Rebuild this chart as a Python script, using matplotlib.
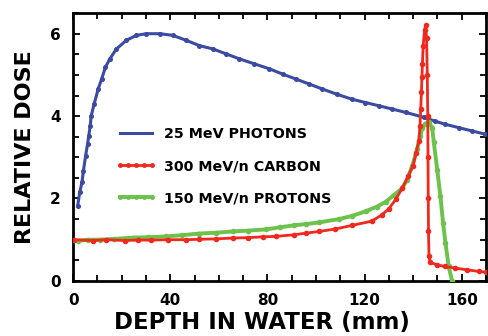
import matplotlib
matplotlib.use('Agg')
import matplotlib.pyplot as plt
from matplotlib.lines import Line2D

# Depth-dose curves
photon_depth = [1.8, 2.7, 3.6, 4.2, 5.1, 5.9, 6.4, 7.0, 7.4, 8.6, 10.3, 11.7, 13.3, 15.1, 17.8,
                21.9, 26.0, 30.1, 35.6, 41.0, 46.5, 52.0, 57.5, 63.0, 68.4, 74.5, 80.7, 86.2,
                91.7, 97.1, 102.5, 108.6, 114.8, 120.3, 125.9, 131.4, 136.9, 144.4, 148.8,
                153.3, 158.7, 164.2, 169.7]
photon_dose = [1.81, 2.15, 2.39, 2.67, 3.03, 3.32, 3.52, 3.76, 4.00, 4.29, 4.66, 4.90, 5.19, 5.39,
               5.63, 5.84, 5.96, 6.00, 6.00, 5.96, 5.84, 5.71, 5.63, 5.51, 5.39, 5.27, 5.15, 5.02,
               4.90, 4.78, 4.66, 4.53, 4.41, 4.33, 4.25, 4.17, 4.09, 3.97, 3.88, 3.80, 3.72,
               3.64, 3.56]

carbon_depth = [0.5, 8.2, 13.7, 21.2, 26.5, 32.0, 39.0, 46.5, 52.0, 58.9, 65.7, 72.0, 78.0, 83.5,
                91.0, 96.0, 101.3, 108.0, 115.0, 123.0, 127.0, 130.0, 132.8, 135.5, 137.9, 140.0,
                141.2, 142.3, 142.8, 143.1, 143.4, 143.6, 143.8, 144.1, 144.7, 145.1, 145.5,
                145.8, 146.0, 146.1, 146.2, 146.3, 146.5, 147.0, 149.8, 153.0, 157.4, 162.0,
                167.0, 170.0]
carbon_dose = [1.00, 0.98, 1.00, 0.98, 0.99, 0.99, 1.00, 1.00, 1.01, 1.02, 1.04, 1.05, 1.07, 1.08,
               1.12, 1.16, 1.20, 1.26, 1.35, 1.45, 1.60, 1.75, 1.98, 2.25, 2.54, 2.80, 3.10, 3.40,
               3.76, 4.17, 4.58, 4.94, 5.27, 5.71, 6.10, 6.20, 5.90, 5.00, 4.00, 3.00, 2.00, 1.20,
               0.60, 0.45, 0.39, 0.35, 0.31, 0.27, 0.23, 0.21]

proton_depth = [2.0, 6.0, 11.0, 17.0, 24.5, 31.0, 38.3, 45.0, 52.0, 59.0, 65.7, 72.0, 79.4, 85.0,
                91.0, 96.0, 101.3, 109.5, 115.0, 120.4, 125.0, 128.7, 132.0, 135.5, 137.5, 139.6,
                141.6, 143.0, 143.7, 145.0, 146.4, 147.8, 148.5, 149.9, 151.2, 152.3, 153.3,
                154.6, 156.0]
proton_dose = [0.97, 1.00, 1.00, 1.02, 1.05, 1.06, 1.08, 1.11, 1.15, 1.17, 1.20, 1.22, 1.25, 1.30,
               1.35, 1.38, 1.42, 1.50, 1.58, 1.69, 1.80, 1.92, 2.08, 2.25, 2.46, 2.79, 3.20, 3.52,
               3.72, 3.82, 3.85, 3.72, 3.36, 2.70, 2.06, 1.41, 0.92, 0.35, 0.00]

labels = ['25 MeV PHOTONS', '300 MeV/n CARBON', '150 MeV/n PROTONS']
colors = ['#3b4aa3', '#f0281e', '#6cc24a']

plt.rcParams['font.family'] = 'DejaVu Sans'
plt.rcParams['font.weight'] = 'bold'

fig, ax = plt.subplots(figsize=(4.88, 3.36), dpi=100)
fig.subplots_adjust(left=0.150, right=0.996, bottom=0.164, top=0.961)

ax.plot(photon_depth, photon_dose, color=colors[0], lw=2.2, marker='o', ms=2.6, zorder=3)
ax.plot(proton_depth, proton_dose, color=colors[2], lw=2.8, marker='o', ms=3.0, zorder=4)
ax.plot(carbon_depth, carbon_dose, color=colors[1], lw=2.0, marker='o', ms=3.0, zorder=5)

ax.set_xlim(0, 170)
ax.set_ylim(0, 6.5)
ax.set_xticks([0, 40, 80, 120, 160])
ax.set_xticks([x for x in range(10, 171, 10) if x % 40], minor=True)
ax.set_yticks([0, 2, 4, 6])
ax.set_yticks([0.5, 1, 1.5, 2.5, 3, 3.5, 4.5, 5, 5.5, 6.5], minor=True)
ax.tick_params(which='both', direction='in', top=True, right=True, width=1.3)
ax.tick_params(which='major', length=5, labelsize=11, pad=9)
ax.tick_params(which='minor', length=4)
for sp in ax.spines.values():
    sp.set_linewidth(2)

ax.set_xlabel('DEPTH IN WATER (mm)', fontsize=16.5, fontweight='heavy')
ax.xaxis.set_label_coords(0.456, -0.112)
ax.set_ylabel('RELATIVE DOSE', fontsize=16, fontweight='heavy', labelpad=11)

handles = [Line2D([], [], color=colors[0], lw=2.2),
           Line2D([], [], color=colors[1], lw=2.0, marker='o', ms=2.5),
           Line2D([], [], color=colors[2], lw=2.8, marker='o', ms=2.5)]
ax.legend(handles, labels, loc='upper left', bbox_to_anchor=(0.09, 0.595), frameon=False,
          fontsize=10.3, handlelength=2.8, handletextpad=0.55, labelspacing=1.25, numpoints=5,
          borderaxespad=0)

plt.savefig('out.png', dpi=100)
